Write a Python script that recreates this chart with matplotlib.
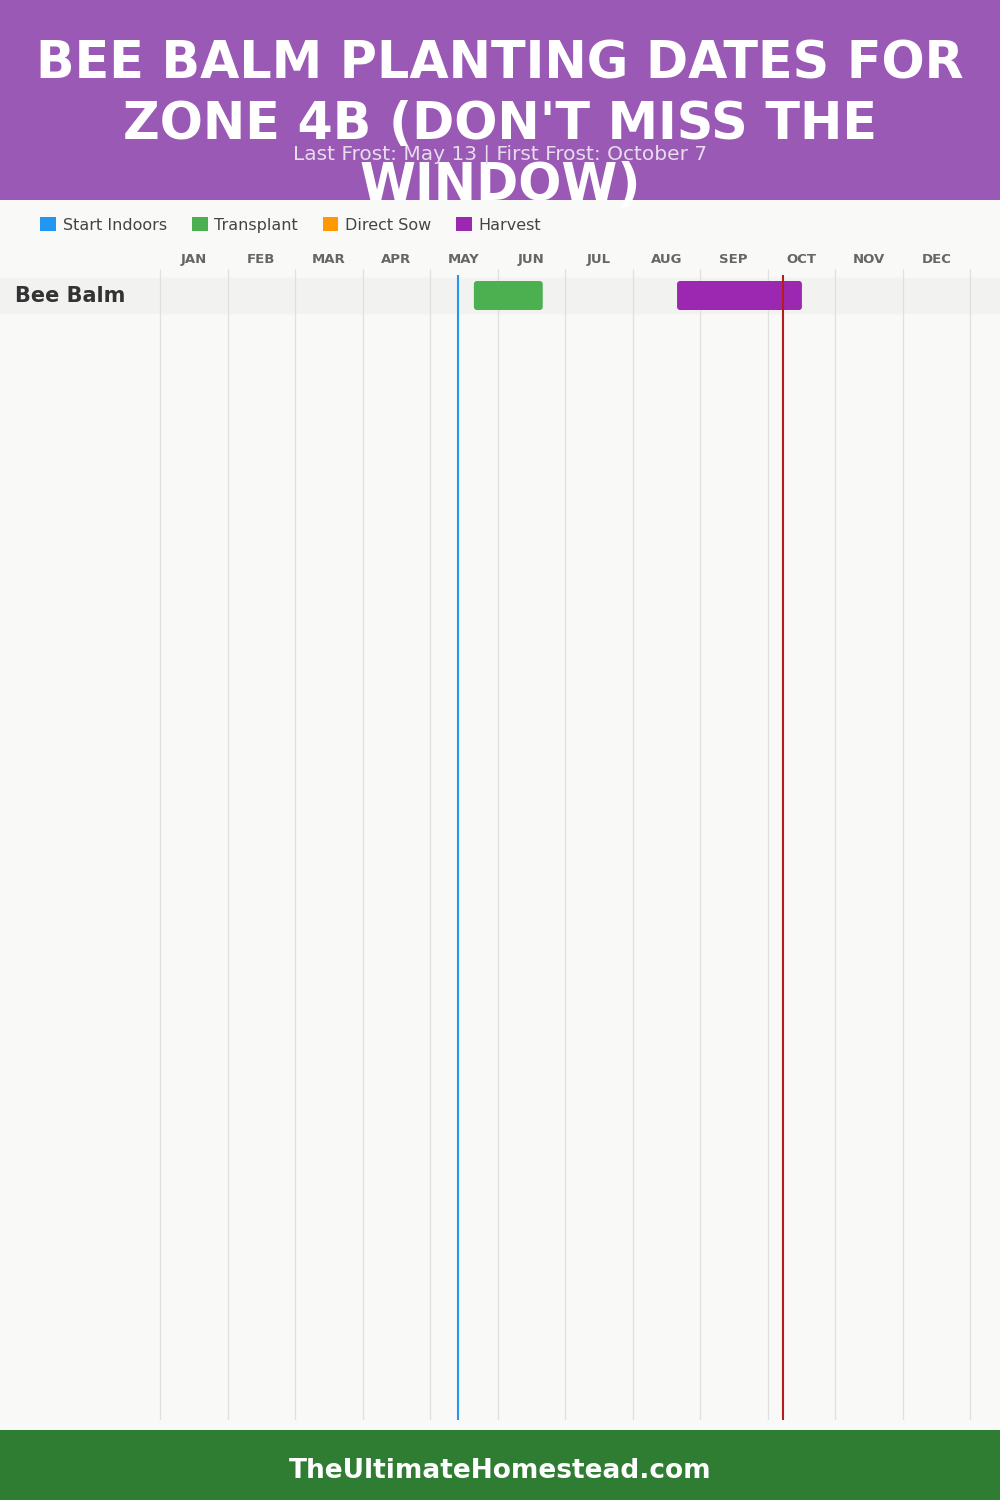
import matplotlib.pyplot as plt
from matplotlib.patches import Rectangle, FancyBboxPatch, Patch

# data (months as fractional month index, 0 = Jan 1)
months = ['JAN', 'FEB', 'MAR', 'APR', 'MAY', 'JUN', 'JUL', 'AUG', 'SEP', 'OCT', 'NOV', 'DEC']
crops = ['Bee Balm']
transplant = [(4.65, 5.67)]
harvest = [(7.66, 9.51)]
last_frost = 4 + 13 / 31     # May 13
first_frost = 9 + 7 / 31     # October 7

legend_labels = ['Start Indoors', 'Transplant', 'Direct Sow', 'Harvest']
legend_colors = ['#2196F3', '#4CAF50', '#FF9800', '#9C27B0']

title = "BEE BALM PLANTING DATES FOR\nZONE 4B (DON'T MISS THE\nWINDOW)"
subtitle = "Last Frost: May 13 | First Frost: October 7"
footer = "TheUltimateHomestead.com"

W, H = 1000, 1500
fig = plt.figure(figsize=(10, 15), dpi=100, facecolor='#f9f9f8')

# chart axes: full width, month 0 at x=160px, 67.5px per month
px_per_month = 67.5
top_px, bot_px = 269, 1420
row_px = 35
row0_px = 295.5
ax = fig.add_axes([0, 1 - bot_px / H, 1, (bot_px - top_px) / H])
ax.set_facecolor('none')
ax.set_xlim(-160 / px_per_month, (W - 160) / px_per_month)
ax.set_ylim((bot_px - row0_px) / row_px, (top_px - row0_px) / row_px)
for s in ax.spines.values():
    s.set_visible(False)

# row bands and labels
for i, name in enumerate(crops):
    ax.axhspan(i - 0.5, i + 0.5, color='#f2f2f1', zorder=0)
    ax.text(0.015, i, name, transform=ax.get_yaxis_transform(), ha='left', va='center',
            fontsize=15, fontweight='bold', color='#333333')

# month grid
ax.vlines(range(13), *ax.get_ylim(), color='#e0e0e0', lw=0.9, zorder=1)
ax.set_xticks([m + 0.5 for m in range(12)])
ax.set_xticklabels(months, fontsize=9.5, fontweight='bold', color='#666666')
ax.xaxis.tick_top()
ax.tick_params(axis='x', length=0, pad=2)
ax.set_yticks([])

# bars
bh = 29 / row_px
aspect = px_per_month / row_px
for i in range(len(crops)):
    for (a, b), c in [(transplant[i], legend_colors[1]), (harvest[i], legend_colors[3])]:
        ax.add_patch(FancyBboxPatch((a, i - bh / 2), b - a, bh,
                                    boxstyle='round,pad=0,rounding_size=0.045',
                                    mutation_aspect=aspect, fc=c, ec='none', zorder=3))

# frost lines
y0 = (275 - row0_px) / row_px
ax.vlines(last_frost, y0, ax.get_ylim()[0], color='#2196F3', lw=1.5, zorder=4)
ax.vlines(first_frost, y0, ax.get_ylim()[0], color='#b71c1c', lw=1.5, zorder=4)

# header
fig.add_artist(Rectangle((0, 1 - 200 / H), 1, 200 / H, transform=fig.transFigure,
                         fc='#9b59b6', ec='none', zorder=0))
fig.text(0.5, 1 - 125 / H, title, ha='center', va='center', color='white',
         fontsize=36.5, fontweight='heavy', linespacing=1.27, zorder=2)
fig.text(0.5, 1 - 154 / H, subtitle, ha='center', va='center', color='#e6dcec',
         fontsize=14.5, zorder=3)

# legend
handles = [Patch(fc=c, ec='none') for c in legend_colors]
leg = fig.legend(handles, legend_labels, loc='center left', bbox_to_anchor=(0.034, 1 - 225 / H),
                 ncol=4, frameon=False, fontsize=11.5, handlelength=1.0, handleheight=1.0,
                 handletextpad=0.4, columnspacing=1.55, borderaxespad=0)
for t in leg.get_texts():
    t.set_color('#444444')

# footer
fig.add_artist(Rectangle((0, 0), 1, 70 / H, transform=fig.transFigure,
                         fc='#2e7d32', ec='none'))
fig.text(0.5, 29 / H, footer, ha='center', va='center', color='white',
         fontsize=19, fontweight='bold')

fig.savefig('out.png', dpi=100, facecolor=fig.get_facecolor())
